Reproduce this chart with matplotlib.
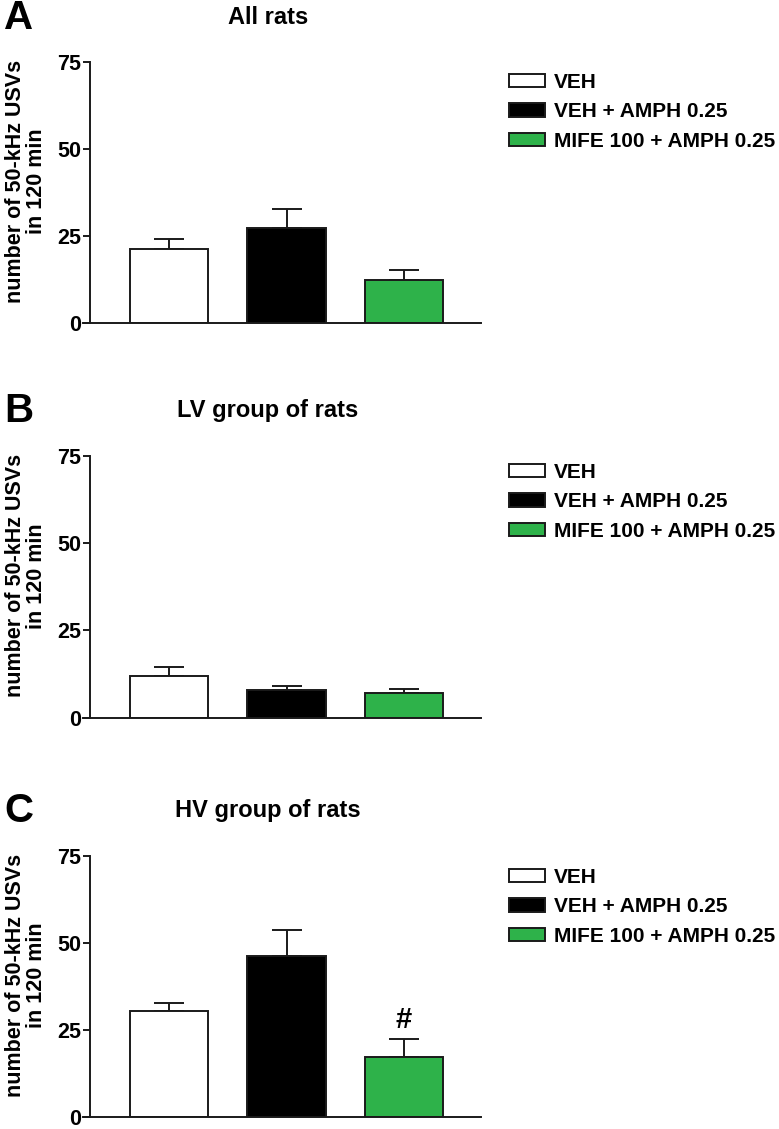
import matplotlib
matplotlib.use("Agg")
import matplotlib.pyplot as plt
from matplotlib.patches import Patch

plt.rcParams['font.family'] = ['Liberation Sans', 'DejaVu Sans']
plt.rcParams['font.weight'] = 'bold'

groups = ["VEH", "VEH + AMPH 0.25", "MIFE 100 + AMPH 0.25"]
colors = ["#ffffff", "#000000", "#2eb24a"]

panel_letters = ["A", "B", "C"]
panel_titles = ["All rats", "LV group of rats", "HV group of rats"]

means_all = [21.2, 27.1, 12.3]
sem_all = [2.8, 5.7, 2.8]
means_lv = [12.0, 7.9, 7.0]
sem_lv = [2.5, 1.3, 1.2]
means_hv = [30.3, 46.3, 17.3]
sem_hv = [2.3, 7.4, 5.0]

means = [means_all, means_lv, means_hv]
sems = [sem_all, sem_lv, sem_hv]
annotations = [[None, None, None], [None, None, None], [None, None, "#"]]

yticks = [0, 25, 50, 75]
ylabel = "number of 50-kHz USVs\nin 120 min"

W, H = 779, 1129
fig = plt.figure(figsize=(W / 100, H / 100), dpi=100)

# pixel layout (top, bottom) of each panel's y range
panel_px = [(61.7, 322.7), (456.0, 717.7), (855.8, 1116.8)]
ax_left, ax_right = 83, 481
spine_x = 90
legend_top = [73, 463, 868]
title_y = [17, 410, 810]

bar_w = 0.664
xlim = (-0.732, -0.732 + (ax_right - ax_left) / 117.5)

for i in range(3):
    top, bot = panel_px[i]
    ax = fig.add_axes([ax_left / W, 1 - bot / H, (ax_right - ax_left) / W, (bot - top) / H])
    x = list(range(len(groups)))
    m = means[i]
    s = sems[i]
    ax.bar(x, m, width=bar_w, color=colors, edgecolor="#1a1a1a", linewidth=1.4, zorder=2)
    ax.errorbar(x, m, yerr=[[0] * 3, s], fmt="none", ecolor="#1a1a1a",
                elinewidth=1.4, capsize=10.5, capthick=1.4, zorder=1)
    for j, a in enumerate(annotations[i]):
        if a:
            ax.text(x[j], m[j] + s[j] + 1.6, a, ha="center", va="bottom",
                    fontsize=21, fontweight="bold")
    ax.set_xlim(*xlim)
    ax.set_ylim(0, 75)
    ax.set_yticks(yticks)
    ax.set_xticks([])
    ax.spines["top"].set_visible(False)
    ax.spines["right"].set_visible(False)
    ax.spines["left"].set_position(("axes", (spine_x - ax_left) / (ax_right - ax_left)))
    for sp in ("left", "bottom"):
        ax.spines[sp].set_linewidth(1.4)
        ax.spines[sp].set_color("#1a1a1a")
    ax.tick_params(axis="y", length=5, width=1.4, pad=1.5, labelsize=15.5, color="#1a1a1a")
    for lab in ax.get_yticklabels():
        lab.set_fontweight("bold")
    ax.patch.set_alpha(0)

    # y label
    fig.text(26 / W, 1 - (top + bot - 22) / 2 / H, ylabel, rotation=90, ha="center", va="center",
             fontsize=15.5, fontweight="bold", multialignment="center", linespacing=0.95)
    # title
    ty = title_y[i]
    fig.text(268 / W, 1 - ty / H, panel_titles[i], ha="center", va="center",
             fontsize=17, fontweight="bold")
    fig.text(4 / W, 1 - (ty + 1) / H, panel_letters[i], ha="left", va="center",
             fontsize=29, fontweight="bold")

    handles = [Patch(facecolor=c, edgecolor="#1a1a1a", linewidth=1.4) for c in colors]
    fig.legend(handles, groups, loc="upper left",
               bbox_to_anchor=(509 / W, 1 - legend_top[i] / H),
               frameon=False, handlelength=1.75, handleheight=0.6,
               handletextpad=0.4, labelspacing=0.5, borderaxespad=0, borderpad=0,
               prop={"weight": "bold", "size": 15})

fig.savefig("out.png", dpi=100)
